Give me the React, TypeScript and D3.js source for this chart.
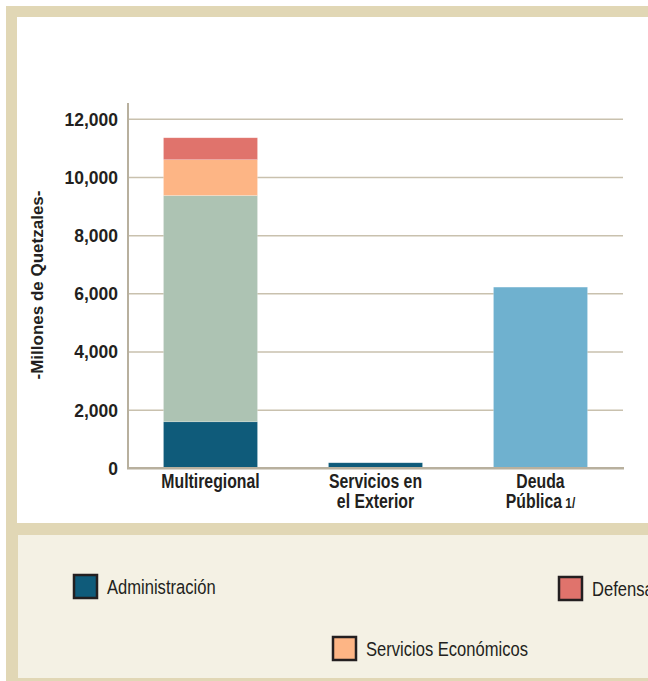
import React from "react";
import * as d3 from "d3";

const categories = ["Multiregional", "Servicios en el Exterior", "Deuda Pública 1/"];
const categoryLines = [["Multiregional"], ["Servicios en", "el Exterior"], ["Deuda", "Pública 1/"]];
const seriesNames = ["Administración", "Desarrollo Social", "Servicios Económicos", "Defensa", "Deuda Pública"];
const administracion = [1600, 190, 0];
const desarrolloSocial = [7780, 0, 0];
const serviciosEconomicos = [1230, 0, 0];
const defensa = [755, 0, 0];
const deudaPublica = [0, 0, 6230];
const seriesColors = ["#0f5b7a", "#adc3b3", "#fdb585", "#e0736c", "#6fb1cf"];
const yTicks = [0, 2000, 4000, 6000, 8000, 10000, 12000];
const legendItems = ["Administración", "Defensa", "Servicios Económicos"];

const W = 648;
const H = 681;

export default function App() {
  const seriesValues = [administracion, desarrolloSocial, serviciosEconomicos, defensa, deudaPublica];
  const rows = categories.map((c, i) => {
    const r: any = { cat: c };
    seriesNames.forEach((s, j) => (r[s] = seriesValues[j][i]));
    return r;
  });
  const stack = d3.stack<any>().keys(seriesNames)(rows);

  const x = d3.scaleBand<string>().domain(categories).range([128, 623]).paddingInner(0.43).paddingOuter(0.215);
  const y = d3.scaleLinear().domain([0, 12000]).range([468.3, 119.3]);
  const fmt = d3.format(",");

  const legendPos: Record<string, [number, number]> = {
    "Administración": [73, 574],
    "Defensa": [558, 576],
    "Servicios Económicos": [332, 636],
  };

  const sans = "'Liberation Sans', Arial, Helvetica, sans-serif";

  return (
    <svg width={W} height={H} style={{ position: "absolute", left: 0, top: 0 }}>
      <rect x={0} y={0} width={W} height={H} fill="#ffffff" />
      <rect x={6} y={6} width={W} height={H} fill="#e1d7b5" />
      <rect x={17} y={17} width={W} height={506} fill="#ffffff" />
      <rect x={18} y={535} width={W} height={143} fill="#f4f1e4" />

      {/* gridlines */}
      {yTicks.filter((t) => t > 0).map((t) => (
        <line key={t} x1={128} x2={623} y1={y(t)} y2={y(t)} stroke="#c9c1ae" strokeWidth={1.5} />
      ))}

      {/* bars */}
      {stack.map((layer, li) =>
        layer.map((d, i) => {
          const h = y(d[0]) - y(d[1]);
          if (h <= 0) return null;
          return (
            <rect
              key={`${li}-${i}`}
              x={x(categories[i])!}
              width={x.bandwidth()}
              y={y(d[1])}
              height={h}
              fill={seriesColors[li]}
              stroke="rgba(255,255,255,0.35)"
              strokeWidth={0.6}
            />
          );
        })
      )}

      {/* axes */}
      <line x1={128} x2={128} y1={103} y2={469} stroke="#b8b09e" strokeWidth={2} />
      <line x1={127} x2={624} y1={y(0)} y2={y(0)} stroke="#b8b09e" strokeWidth={2.5} />

      {/* y tick labels */}
      {yTicks.map((t) => (
        <text
          key={t}
          x={118}
          y={y(t) + 6.5}
          textAnchor="end"
          fontFamily={sans}
          fontWeight="bold"
          fontSize={17.5}
          fill="#231f20"
        >
          {fmt(t)}
        </text>
      ))}

      {/* y title */}
      <text
        transform={`translate(43,285) rotate(-90)`}
        textAnchor="middle"
        fontFamily={sans}
        fontWeight="bold"
        fontSize={17}
        fill="#231f20"
      >
        -Millones de Quetzales-
      </text>

      {/* category labels */}
      {categories.map((c, i) => {
        const cx = x(c)! + x.bandwidth() / 2;
        return (
          <g key={c} transform={`translate(${cx},0) scale(0.79,1)`}>
            <text textAnchor="middle" fontFamily={sans} fontWeight="bold" fontSize={20} fill="#231f20">
              {categoryLines[i].map((ln, k) => {
                if (ln.endsWith(" 1/")) {
                  return (
                    <tspan key={k} x={0} y={488 + k * 20}>
                      {ln.slice(0, -3)}
                      <tspan fontSize={15}> 1/</tspan>
                    </tspan>
                  );
                }
                return (
                  <tspan key={k} x={0} y={488 + k * 20}>
                    {ln}
                  </tspan>
                );
              })}
            </text>
          </g>
        );
      })}

      {/* legend */}
      {legendItems.map((name) => {
        const [lx, ly] = legendPos[name];
        const ci = seriesNames.indexOf(name);
        return (
          <g key={name}>
            <rect x={lx + 1} y={ly + 1} width={23} height={23} fill={seriesColors[ci]} stroke="#231f20" strokeWidth={2.5} />
            <g transform={`translate(${lx + 34},${ly + 20}) scale(0.85,1)`}>
              <text x={0} y={0} fontFamily={sans} fontSize={19.5} fill="#231f20">
                {name}
              </text>
            </g>
          </g>
        );
      })}
    </svg>
  );
}
